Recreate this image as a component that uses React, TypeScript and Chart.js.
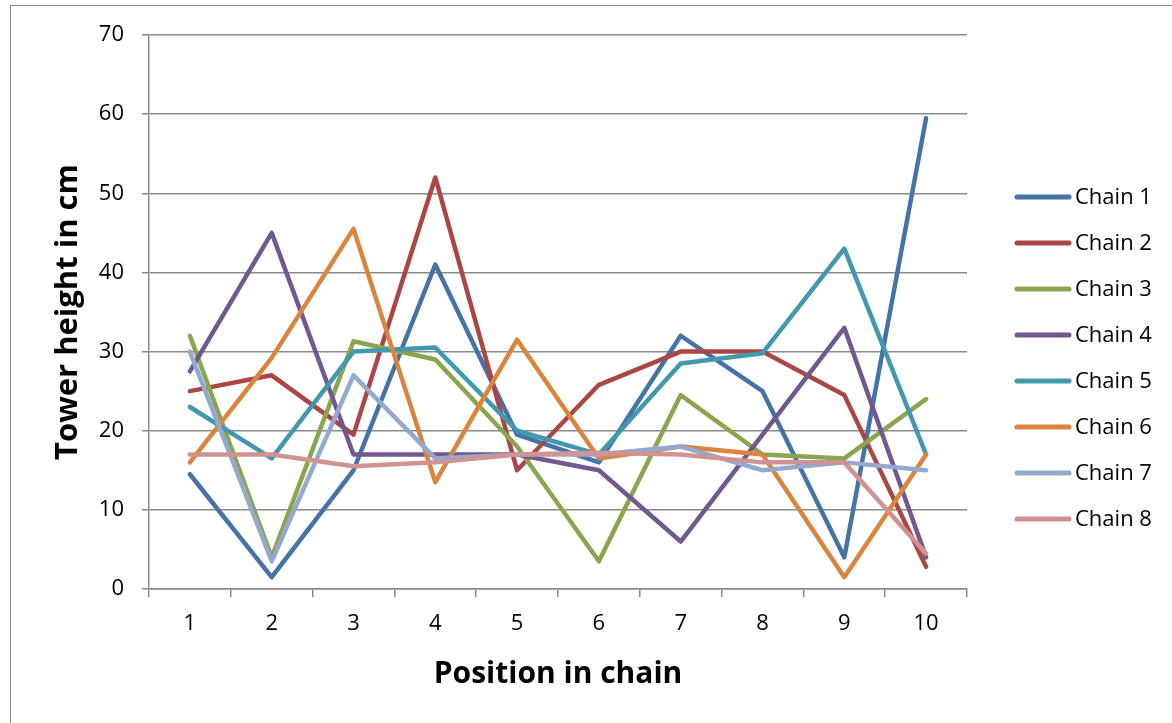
import React, { useEffect, useRef } from "react";
import { Chart, registerables } from "chart.js";

Chart.register(...registerables);

const positions = ["1", "2", "3", "4", "5", "6", "7", "8", "9", "10"];
const seriesNames = ["Chain 1", "Chain 2", "Chain 3", "Chain 4", "Chain 5", "Chain 6", "Chain 7", "Chain 8"];

const chain1 = [14.5, 1.5, 15, 41, 19.5, 16, 32, 25, 4, 59.5];
const chain2 = [25, 27, 19.5, 52, 15, 25.8, 30, 30, 24.5, 2.8];
const chain3 = [32, 4, 31.3, 29, 18, 3.5, 24.5, 17, 16.5, 24];
const chain4 = [27.5, 45, 17, 17, 17, 15, 6, 19.5, 33, 4];
const chain5 = [23, 16.5, 30, 30.5, 20, 17, 28.5, 29.8, 43, 17];
const chain6 = [16, 29.2, 45.5, 13.5, 31.5, 16.5, 18, 17, 1.5, 17];
const chain7 = [30, 3.5, 27, 16.5, 17, 17, 18, 15, 16, 15];
const chain8 = [17, 17, 15.5, 16, 17, 17.2, 17, 16, 16, 4.5];

const seriesValues = [chain1, chain2, chain3, chain4, chain5, chain6, chain7, chain8];
const seriesColors = ["#4572A7", "#AA4643", "#89A54E", "#71588F", "#4198AF", "#DB843D", "#93A9CF", "#D19392"];

const yMin = 0;
const yMax = 70;
const yStep = 10;

const xTitle = "Position in chain";
const yTitle = "Tower height in cm";

const FONT = "'Open Sans', 'Noto Sans', sans-serif";
const GRID = "#8a8a8a";

const sideLegend = {
  id: "sideLegend",
  afterDraw(chart: any) {
    const ctx = chart.ctx;
    const area = chart.chartArea;
    const x0 = area.right + 50;
    const y0 = 197;
    const gap = 46;
    chart.data.datasets.forEach((ds: any, i: number) => {
      const y = y0 + i * gap;
      ctx.save();
      ctx.strokeStyle = ds.borderColor;
      ctx.lineWidth = 5;
      ctx.lineCap = "round";
      ctx.beginPath();
      ctx.moveTo(x0, y);
      ctx.lineTo(x0 + 52, y);
      ctx.stroke();
      ctx.fillStyle = "#000";
      ctx.font = `22px ${FONT}`;
      ctx.textBaseline = "middle";
      ctx.textAlign = "left";
      ctx.fillText(ds.label, x0 + 58, y + 1);
      ctx.restore();
    });
  },
};

export default function App() {
  const canvasRef = useRef<HTMLCanvasElement | null>(null);

  useEffect(() => {
    const canvas = canvasRef.current;
    if (!canvas) return;
    const chart = new Chart(canvas, {
      type: "line",
      data: {
        labels: positions,
        datasets: seriesNames.map((name, i) => ({
          label: name,
          data: seriesValues[i],
          borderColor: seriesColors[i],
          backgroundColor: seriesColors[i],
          borderWidth: 4.5,
          borderJoinStyle: "round",
          borderCapStyle: "round",
          pointRadius: 0,
          pointHoverRadius: 0,
          tension: 0,
          fill: false,
          order: seriesNames.length - i,
        })),
      },
      options: {
        animation: false,
        responsive: true,
        maintainAspectRatio: false,
        layout: { padding: { top: 35, right: 205, bottom: 0, left: 0 } },
        plugins: {
          legend: { display: false },
          tooltip: { enabled: false },
        },
        scales: {
          x: {
            type: "category",
            offset: true,
            afterFit: (scale: any) => {
              scale.height = 134;
            },
            grid: {
              offset: true,
              drawOnChartArea: false,
              drawTicks: true,
              tickLength: 8,
              color: GRID,
              lineWidth: 1.5,
            },
            border: { display: true, color: GRID, width: 1.5 },
            ticks: {
              color: "#000",
              font: { family: FONT, size: 22 },
              padding: 14,
              maxRotation: 0,
            },
            title: {
              display: true,
              text: xTitle,
              color: "#000",
              font: { family: FONT, size: 30, weight: "bold" },
              padding: { top: 0, bottom: 31 },
            },
          },
          y: {
            min: yMin,
            max: yMax,
            afterFit: (scale: any) => {
              scale.width = 149;
            },
            ticks: {
              stepSize: yStep,
              color: "#000",
              font: { family: FONT, size: 22 },
              padding: 18,
            },
            grid: {
              color: GRID,
              lineWidth: 1.5,
              drawTicks: true,
              tickLength: 7,
            },
            border: { display: true, color: GRID, width: 1.5 },
            title: {
              display: true,
              text: yTitle,
              color: "#000",
              font: { family: FONT, size: 31, weight: "bold" },
              padding: { top: 50, bottom: 0 },
            },
          },
        },
      },
      plugins: [sideLegend],
    });
    return () => chart.destroy();
  }, []);

  return (
    <div
      style={{
        position: "fixed",
        left: 0,
        top: 0,
        width: 1172,
        height: 723,
        overflow: "hidden",
        background: "#fff",
      }}
    >
      <div
        style={{
          position: "absolute",
          left: 10,
          top: 5,
          width: 1300,
          height: 900,
          border: "1.5px solid #8a8a8a",
          boxSizing: "border-box",
        }}
      />
      <div style={{ position: "absolute", left: 0, top: 0, width: 1172, height: 723 }}>
        <canvas ref={canvasRef} />
      </div>
    </div>
  );
}
